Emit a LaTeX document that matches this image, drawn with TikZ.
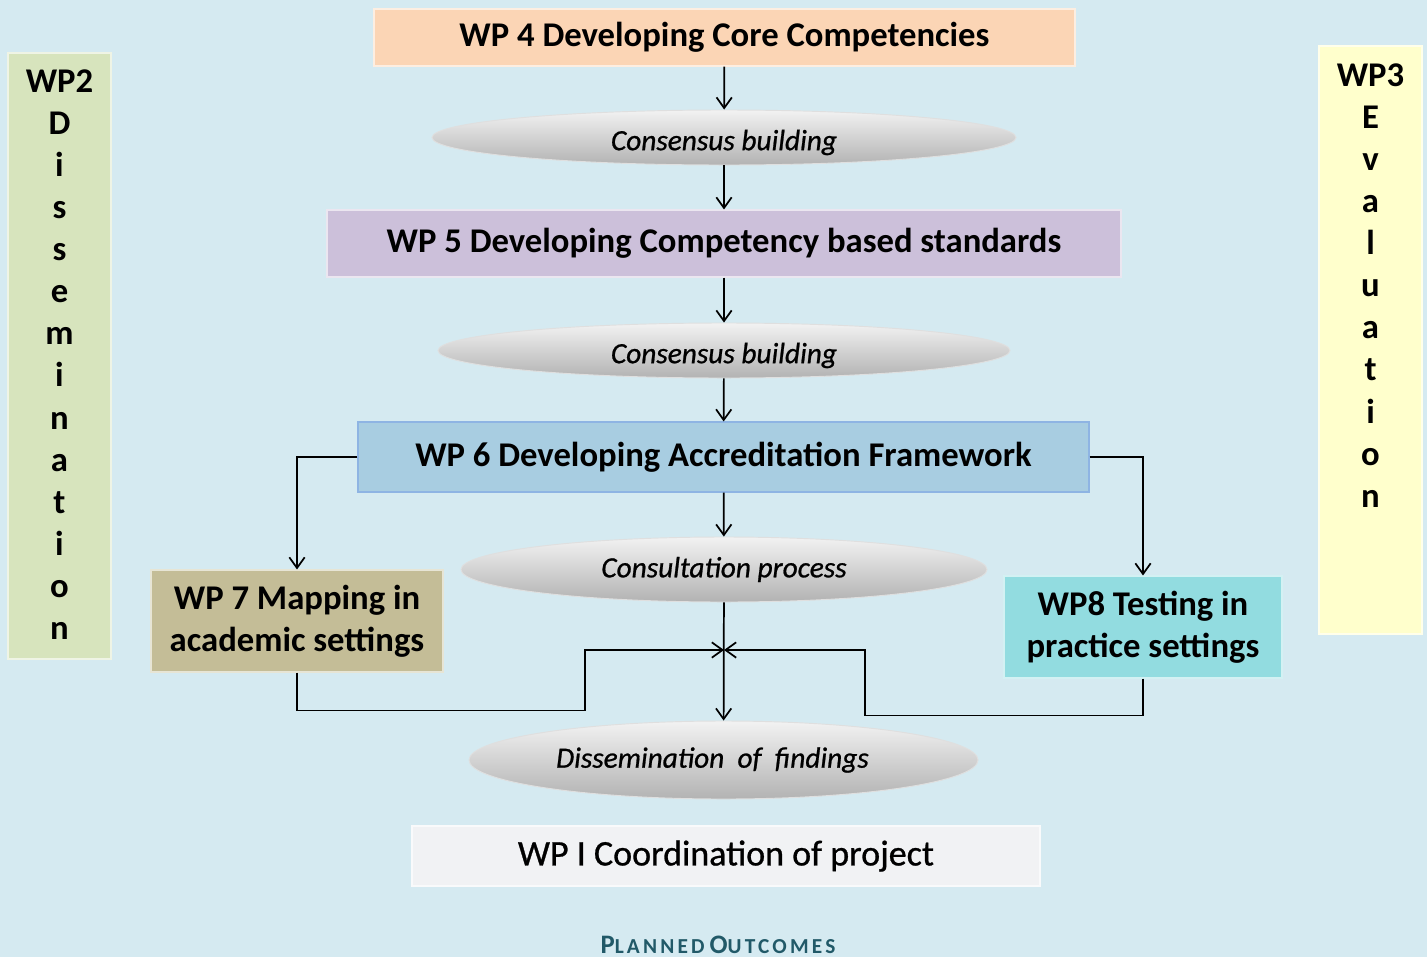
\documentclass[tikz,border=0pt]{standalone}
\usepackage{fontspec}
\setmainfont{Carlito}
\usetikzlibrary{arrows.meta,shapes.geometric}
\definecolor{bgc}{RGB}{213,234,241}
\definecolor{cfour}{RGB}{251,213,181}
\definecolor{cfive}{RGB}{204,192,218}
\definecolor{csix}{RGB}{168,205,225}
\definecolor{csixb}{RGB}{142,180,227}
\definecolor{cseven}{RGB}{196,189,151}
\definecolor{ceight}{RGB}{146,220,224}
\definecolor{cone}{RGB}{241,242,244}
\definecolor{ctwo}{RGB}{215,228,189}
\definecolor{cthree}{RGB}{255,255,204}
\definecolor{cplan}{RGB}{33,89,104}
\begin{document}
\begin{tikzpicture}[x=0.75pt,y=-0.75pt,
  box/.style={rectangle, inner sep=0pt, draw=white!60!#1, fill=#1, line width=0.8pt,
    font=\bfseries\fontsize{26}{31.5}\selectfont, align=center},
  sz/.style 2 args={minimum width=#1*0.75pt, minimum height=#2*0.75pt},
  ell/.style={ellipse, inner sep=0pt, draw=white!75!gray, line width=0.7pt,
    top color=gray!10, bottom color=gray!60,
    font=\itshape\fontsize{22}{24}\selectfont\addfontfeature{FakeBold=0.8}},
  arr/.style={draw=black, line width=1.3pt, -{Straight Barb[length=8pt,width=11.5pt]}},
  sidetxt/.style={inner sep=0pt, anchor=north, align=center, font=\bfseries\fontsize{26}{31.6}\selectfont}
]
\fill[bgc] (0,0) rectangle (1427,957);
\useasboundingbox (0,0) rectangle (1427,957);

% side bars
\node[box=ctwo, sz={103}{606}] (wp2) at (59.5,356) {};
\node[sidetxt] (wp2t) at (59.5,69) {WP2\\D\\i\\s\\s\\e\\m\\i\\n\\a\\t\\i\\o\\n};
\node[box=cthree, sz={103}{588}] (wp3) at (1370.5,340) {};
\node[sidetxt] (wp3t) at (1370.5,63) {WP3\\E\\v\\a\\l\\u\\a\\t\\i\\o\\n};

% main column
\node[box=cfour, sz={701}{57}] (wp4) at (724.5,37.5) {WP 4 Developing Core Competencies};
\node[ell, sz={584}{55}] (e1) at (724,137.5) {\raisebox{-3.75pt}[\height][\depth]{Consensus building}};
\node[box=cfive, sz={794}{67}] (wp5) at (724,243.5) {WP 5 Developing Competency based standards};
\node[ell, sz={572}{55}] (e2) at (724,350.5) {\raisebox{-3.75pt}[\height][\depth]{Consensus building}};
\node[box=csix, draw=csixb, sz={731}{70}] (wp6) at (723.5,457) {WP 6 Developing Accreditation Framework};
\node[ell, sz={526}{65}] (e3) at (724,569.5) {Consultation process};
\node[box=cseven, sz={292}{102}] (wp7) at (297,621) {WP 7 Mapping in\\academic settings};
\node[box=ceight, sz={278}{102}] (wp8) at (1143,627) {WP8 Testing in\\practice settings};
\node[ell, sz={509}{78}] (e4) at (723.5,760) {Dissemination\ \ of\ \ findings\hspace*{16.5pt}};
\node[box=cone, sz={628}{60}, font=\fontsize{27}{30}\selectfont\addfontfeature{FakeBold=0.8}] (wp1) at (726,856) {WP I Coordination of project};
\node[text=cplan, font=\bfseries, inner sep=0pt, anchor=base] (plan) at (718,953)
  {\addfontfeature{LetterSpace=15}{\fontsize{20}{20}\selectfont P}{\fontsize{16}{16}\selectfont LANNED}
   {\fontsize{20}{20}\selectfont O}{\fontsize{16}{16}\selectfont UTCOMES}};

\coordinate (j) at (724,650);

% connectors
\draw[arr] (wp4) -- (e1);
\draw[arr] (e1) -- (wp5);
\draw[arr] (wp5) -- (e2);
\draw[arr] (e2) -- (wp6);
\draw[arr] (wp6) -- (e3);
\draw[arr] (e3) -- (e4);
\draw[arr] (wp6.west) -| (wp7.north);
\draw[arr] (wp6.east) -| (wp8.north);
\draw[arr] (wp7.south) -- ++(0,38) -| (585,650) -- (j);
\draw[arr] (wp8.south) -- ++(0,37) -| (865,650) -- (j);
\end{tikzpicture}
\end{document}
